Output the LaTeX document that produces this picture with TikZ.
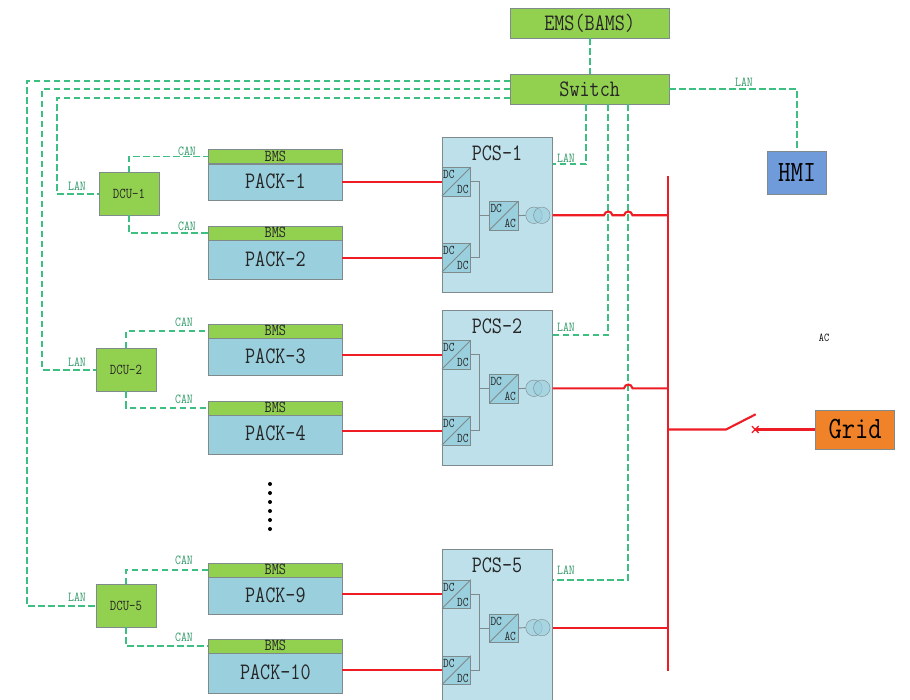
\documentclass[tikz,border=0pt]{standalone}
\usepackage{fontspec}
\setmonofont[FakeStretch=0.83]{Latin Modern Mono}
\usetikzlibrary{positioning,shapes.misc}

\definecolor{boxgreen}{HTML}{92D050}
\definecolor{packblue}{HTML}{9ACFDE}
\definecolor{pcsblue}{HTML}{BDE0EA}
\definecolor{hmiblue}{HTML}{6F9BDB}
\definecolor{gridorange}{HTML}{F0832A}
\definecolor{edgegray}{HTML}{7F8A8C}
\definecolor{langreen}{HTML}{3CBF80}
\definecolor{powerred}{HTML}{EE1C25}

\newcommand*{\fontpx}[1]{\ttfamily\fontsize{#1}{#1}\selectfont}
\newcommand*{\busx}{667.7}

\newcommand*{\drawconv}[5]{
	\node[convbox] (#1) at (#2,#3) {};
	\draw[graylink] (#1.south west) -- (#1.north east);
	\node[convtext,anchor=north west] (#1up) at ([xshift=1pt,yshift=-3pt]#1.north west) {#4};
	\node[convtext,anchor=south east] (#1lo) at ([xshift=-2pt,yshift=2pt]#1.south east) {#5};
}

\begin{document}
\begin{tikzpicture}
[
	x=1pt,y=-1pt,
	greenbox/.style={rectangle,draw=edgegray,fill=boxgreen,inner sep=0pt,text=black!85},
	topbox/.style={greenbox,minimum width=159pt,minimum height=30pt,font=\fontpx{23.6}},
	dcubox/.style={greenbox,minimum width=59.4pt,minimum height=42.5pt,font=\fontpx{15}},
	bmsbox/.style={greenbox,anchor=north west,minimum width=133.7pt,minimum height=14pt,text depth=1pt,font=\fontpx{16.7}},
	packbox/.style={rectangle,draw=edgegray,fill=packblue,inner sep=0pt,text=black!85,minimum width=133.7pt,text depth=2.5pt,font=\fontpx{23.6}},
	pcsbox/.style={rectangle,draw=edgegray,fill=pcsblue,anchor=north west,inner sep=0pt,minimum width=110.6pt,minimum height=155.3pt},
	convbox/.style={rectangle,draw=edgegray,fill=packblue,anchor=north west,inner sep=0pt,minimum size=28.4pt},
	convtext/.style={inner sep=0pt,text=black!85,font=\bfseries\fontpx{13.3}},
	tfcoil/.style={circle,draw=edgegray,fill=packblue,fill opacity=0.6,inner sep=0pt,minimum size=16.5pt},
	pcstitle/.style={inner sep=0pt,text=black!85,font=\fontpx{23.6}},
	nettext/.style={inner sep=0pt,text=langreen!80!black,font=\fontpx{13.7}},
	landash/.style={langreen,line width=1.7pt,dash pattern=on 6.5pt off 3.5pt},
	graylink/.style={draw=edgegray,line width=0.9pt},
	powerline/.style={powerred,line width=2.1pt},
	breaker/.style={cross out,draw=powerred,line width=1.3pt,inner sep=0pt,minimum size=5.5pt}
]

	\useasboundingbox (0,0) rectangle (910,700);

	% top boxes
	\node[topbox] (ems) at (589.7,23) {EMS(BAMS)};
	\node[topbox] (switch) at (589.7,89) {Switch};
	\node[rectangle,draw=edgegray,fill=hmiblue,inner sep=0pt,minimum width=58.7pt,minimum height=43pt,font=\fontpx{29.4}] (hmi) at (797,172.5) {HMI};
	\node[rectangle,draw=edgegray,fill=gridorange,inner sep=0pt,minimum width=79pt,minimum height=39.6pt,font=\fontpx{31}] (grid) at (855,429.5) {Grid};

	% packs
	\foreach \n/\y/\h in {1/149.3/36.7,2/225.7/39.3,3/324/37,4/400.5/39.5,9/563/37,10/639/40} {
		\node[bmsbox] (bms\n) at (208.3,\y) {BMS};
		\node[packbox,below=0pt of bms\n,minimum height=\h pt] (pack\n) {PACK-\n};
	}

	% dcu
	\node[dcubox] (dcu1) at (129,193.8) {DCU-1};
	\node[dcubox] (dcu2) at (126,369.9) {DCU-2};
	\node[dcubox] (dcu5) at (126,605.9) {DCU-5};

	% pcs
	\foreach \n/\y/\pa/\pb in {1/136.7/1/2,2/309.7/3/4,5/549/9/10} {
		\node[pcsbox] (pcs\n) at (441.7,\y) {};
		\node[pcstitle] (title\n) at (497,\y+16.6) {PCS-\n};
		\drawconv{dca\n}{442}{\y+30.6}{DC}{DC}
		\drawconv{dcb\n}{442}{\y+106.6}{DC}{DC}
		\drawconv{dcac\n}{489.3}{\y+64.6}{DC}{AC}
		\node[tfcoil] (tfa\n) at (534,\y+78.6) {};
		\node[tfcoil] (tfb\n) at (541.8,\y+78.6) {};
		\draw[graylink] (dca\n.east) -- ++(9,0) |- (dcb\n.east);
		\draw[graylink] (dcac\n.west) -- ++(-10,0);
		\draw[graylink] (dcac\n.east) -- (tfa\n.west);
		\draw[powerline] (pack\pa.east |- dca\n.west) -- (dca\n.west);
		\draw[powerline] (pack\pb.east |- dcb\n.west) -- (dcb\n.west);
	}

	% lan
	\draw[landash] (ems) -- (switch);
	\draw[landash] (switch.east) -| (hmi.north);
	\draw[landash] ([yshift=8.3pt]switch.west) -- (26.7,80.7) |- (dcu5.west);
	\draw[landash] (switch.west) -- (42,89) |- (dcu2.west);
	\draw[landash] ([yshift=-8.7pt]switch.west) -- (56.7,97.7) |- (dcu1.west);
	\draw[landash] ([xshift=-3.7pt]switch.south) |- ([yshift=50.3pt]pcs1.east);
	\draw[landash] ([xshift=18.6pt]switch.south) |- ([yshift=52.35pt]pcs2.east);
	\draw[landash] ([xshift=38.6pt]switch.south) |- ([yshift=47.1pt]pcs5.east);

	% can
	\draw[landash] (dcu1.north) |- (bms1.west);
	\draw[landash] (dcu1.south) |- (bms2.west);
	\draw[landash] (dcu2.north) |- (bms3.west);
	\draw[landash] (dcu2.south) |- (bms4.west);
	\draw[landash] (dcu5.north) |- (bms9.west);
	\draw[landash] (dcu5.south) |- (bms10.west);

	% labels
	\foreach \n/\x/\y in {a/77/186,b/77/362,c/77/597,d/566/158,e/566/327,f/566/570,g/744/82} {
		\node[nettext] (lan\n) at (\x,\y) {LAN};
	}
	\foreach \n/\x/\y in {a/187/151,b/187/226,c/184/322,d/184/399,e/184/560,f/184/637} {
		\node[nettext] (can\n) at (\x,\y) {CAN};
	}
	\node[inner sep=0pt,font=\fontpx{12}] (aclabel) at (824,338) {AC};

	% dots
	\foreach \y in {484,493,502,511,520,529} {
		\fill (270,\y) circle (2pt);
	}

	% bus
	\coordinate (bustop) at (\busx,176);
	\coordinate (busbot) at (\busx,671);
	\draw[powerline] (bustop) -- (busbot);
	\draw[powerline] (pcs1.east |- tfb1) -- (604,215.3) .. controls +(1,-5) and +(-1,-5) .. (612.5,215.3) -- (624,215.3) .. controls +(1,-5) and +(-1,-5) .. (632.5,215.3) -- (bustop |- tfb1);
	\draw[powerline] (pcs2.east |- tfb2) -- (624,388.3) .. controls +(1,-5) and +(-1,-5) .. (632.5,388.3) -- (bustop |- tfb2);
	\draw[powerline] (pcs5.east |- tfb5) -- (bustop |- tfb5);

	% switch
	\coordinate (swa) at (726,429.5);
	\coordinate (swb) at (755.7,414.3);
	\node[breaker] (swx) at (755.3,429.5) {};
	\draw[powerline] (bustop |- grid.west) -- (swa) -- (swb);
	\draw[powerline] (swx.center) -- (grid.west);

\end{tikzpicture}
\end{document}
